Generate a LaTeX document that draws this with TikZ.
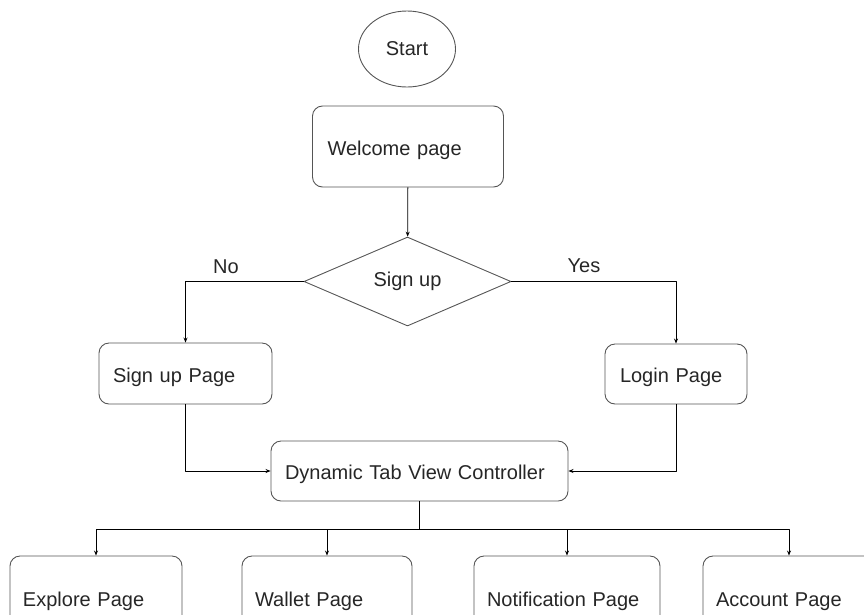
\documentclass[tikz,border=0pt]{standalone}
\usepackage{fontspec}
\setmainfont{Liberation Sans}
\usetikzlibrary{shapes.geometric,arrows.meta}
\definecolor{boxgray}{RGB}{85,85,85}
\begin{document}
\begin{tikzpicture}[x=1pt,y=-1pt,line join=round,>={Stealth[length=5pt,width=4pt]},
	every node/.style={font=\fontsize{20}{24}\selectfont,text=black!85},
	page/.style={draw=boxgray,line width=0.9pt,rounded corners=10pt,align=left,inner xsep=14pt,inner ysep=0pt,text height=17pt,text depth=0pt,text width=#1},
	link/.style={line width=0.8pt,black}]
	\useasboundingbox (0,0) rectangle (864,614);
	\clip (0,0) rectangle (864,614);
	% top part
	\node[draw=boxgray,line width=0.9pt,ellipse,minimum width=97pt,minimum height=76pt,inner sep=0pt] (start) at (407,49) {Start};
	\node[page=161pt,inner xsep=15pt,minimum height=81pt] (welcome) at (408,146.5) {Welcome page};
	\node[draw=boxgray,line width=0.9pt,diamond,minimum width=207pt,minimum height=89pt,inner sep=0pt] (signup) at (407.5,281.5) {Sign up};
	\node (no) at (226,267) {No};
	\node (yes) at (584,266) {Yes};
	% middle row
	\node[page=145pt,minimum height=61pt] (signpage) at (185.5,373.5) {Sign up Page};
	\node[page=112pt,inner xsep=15pt,minimum height=60pt] (login) at (676,374) {Login Page};
	\node[page=269pt,minimum height=60pt] (ctrl) at (419.5,471) {Dynamic Tab View Controller};
	% bottom row
	\foreach \n/\x/\w/\t in {explore/96/146/Explore Page,wallet/327/144/Wallet Page,notif/567/160/Notification Page,account/789/146/Account Page}{
		\node[page=\w pt,inner xsep=13pt,minimum height=84pt] (\n) at (\x,598) {\t};
	}
	\coordinate (bus) at (419.5,529);
	\draw[link,->] (welcome) -- (signup);
	\draw[link,->] (signup.west) -| (signpage.north);
	\draw[link,->] (signup.east) -| (login.north);
	\draw[link,->] (signpage.south) |- (ctrl.west);
	\draw[link,->] (login.south) |- (ctrl.east);
	\draw[link] (ctrl.south) -- (bus);
	\foreach \n in {explore,wallet,notif,account}{
		\draw[link,->] (bus) -| (\n.north);
	}
\end{tikzpicture}
\end{document}
